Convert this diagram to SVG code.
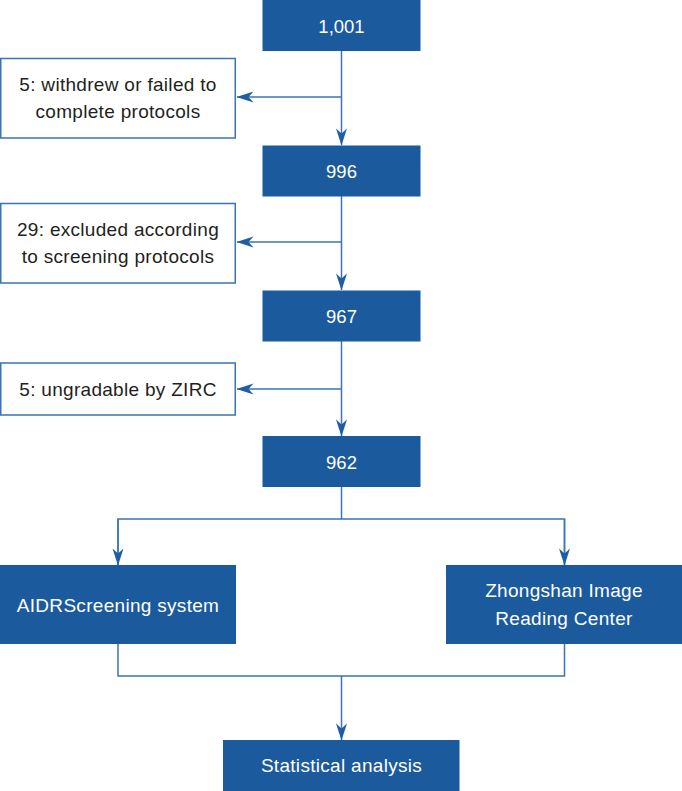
<svg xmlns="http://www.w3.org/2000/svg" width="682" height="791" viewBox="0 0 682 791">
<style>
.main{fill:#1b5a9d;}
.side{fill:#ffffff;stroke:#3a74b4;stroke-width:1.5;}
.wt{fill:#ffffff;font-family:"Liberation Sans",Arial,sans-serif;font-size:19px;text-anchor:middle;letter-spacing:0.3px;}
.num{letter-spacing:0px;font-size:18.5px;}
.bt{fill:#231f20;font-family:"Liberation Sans",Arial,sans-serif;font-size:19px;text-anchor:middle;letter-spacing:0.3px;}
.ln{fill:none;stroke:#3a74b4;stroke-width:1.5;}
</style>
<defs>
<marker id="ah" markerUnits="userSpaceOnUse" markerWidth="18" markerHeight="12" viewBox="0 0 17 12" refX="16.5" refY="6" orient="auto">
<path d="M0,0.5 L17,6 L0,11.5 L5,6 Z" fill="#1f5ea6"/>
</marker>
</defs>
<g id="connectors">
<line class="ln" x1="341.5" y1="51" x2="341.5" y2="145" marker-end="url(#ah)"/>
<line class="ln" x1="341.5" y1="97" x2="237" y2="97" marker-end="url(#ah)"/>
<line class="ln" x1="341.5" y1="196" x2="341.5" y2="290" marker-end="url(#ah)"/>
<line class="ln" x1="341.5" y1="242" x2="237" y2="242" marker-end="url(#ah)"/>
<line class="ln" x1="341.5" y1="341" x2="341.5" y2="436" marker-end="url(#ah)"/>
<line class="ln" x1="341.5" y1="389" x2="237" y2="389" marker-end="url(#ah)"/>
<polyline class="ln" points="341.5,487 341.5,519"/>
<polyline class="ln" points="118,565 118,519 564.5,519 564.5,565"/>
<line class="ln" x1="118" y1="519" x2="118" y2="565" marker-end="url(#ah)"/>
<line class="ln" x1="564.5" y1="519" x2="564.5" y2="565" marker-end="url(#ah)"/>
<polyline class="ln" points="118,644 118,676 564.5,676 564.5,644"/>
<line class="ln" x1="341.5" y1="676" x2="341.5" y2="740" marker-end="url(#ah)"/>
</g>
<g id="n1001">
<rect class="main" x="262.5" y="0" width="158" height="51"/>
<text class="wt num" x="341.5" y="32.5">1,001</text>
</g>
<g id="excl1">
<rect class="side" x="0.75" y="58.5" width="234.5" height="79.5"/>
<text class="bt" x="118" y="91">5: withdrew or failed to</text>
<text class="bt" x="118" y="117.7">complete protocols</text>
</g>
<g id="n996">
<rect class="main" x="262.5" y="145.5" width="158" height="51"/>
<text class="wt num" x="341.5" y="178">996</text>
</g>
<g id="excl2">
<rect class="side" x="0.75" y="203.5" width="234.5" height="79.5"/>
<text class="bt" x="118" y="235.5">29: excluded according</text>
<text class="bt" x="118" y="262.5">to screening protocols</text>
</g>
<g id="n967">
<rect class="main" x="262.5" y="290.5" width="158" height="51"/>
<text class="wt num" x="341.5" y="323.3">967</text>
</g>
<g id="excl3">
<rect class="side" x="0.75" y="363" width="234.5" height="52"/>
<text class="bt" x="118" y="395.5">5: ungradable by ZIRC</text>
</g>
<g id="n962">
<rect class="main" x="262.5" y="436" width="158" height="51"/>
<text class="wt num" x="341.5" y="468.5">962</text>
</g>
<g id="aidr">
<rect class="main" x="0" y="565" width="236" height="79"/>
<text class="wt" x="118" y="611.5">AIDRScreening system</text>
</g>
<g id="zirc">
<rect class="main" x="446" y="565" width="236" height="79"/>
<text class="wt" x="564" y="597.3">Zhongshan Image</text>
<text class="wt" x="564" y="625">Reading Center</text>
</g>
<g id="stats">
<rect class="main" x="223" y="740" width="236.5" height="51"/>
<text class="wt" x="341.5" y="771.7">Statistical analysis</text>
</g>
</svg>
